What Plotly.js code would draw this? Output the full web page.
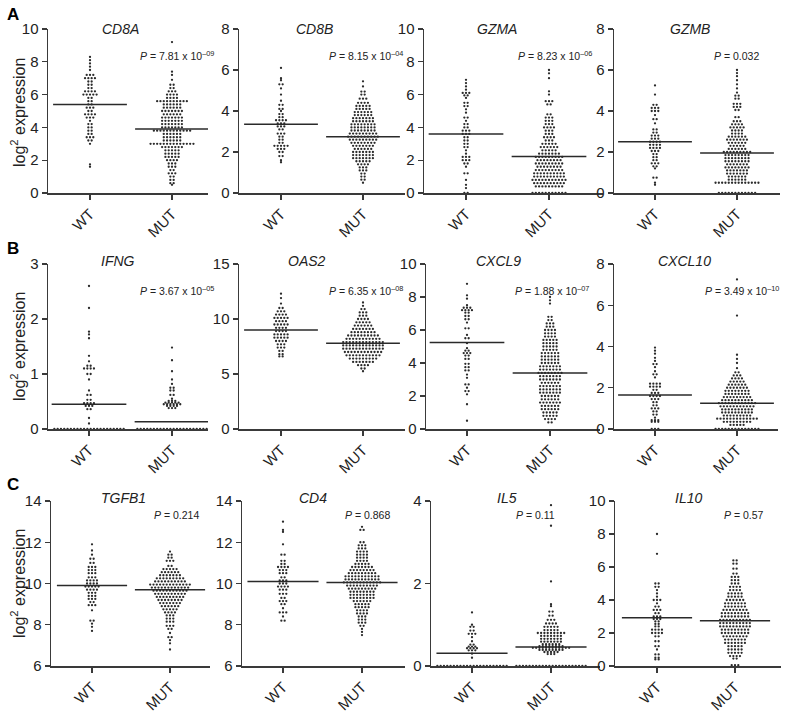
<!DOCTYPE html>
<html>
<head>
<meta charset="utf-8">
<script src="https://cdn.plot.ly/plotly-3.0.1.min.js"></script>
<style>
  html, body { margin: 0; padding: 0; background: #fff; }
  #chart { width: 795px; height: 727px; }
</style>
</head>
<body>
<div id="chart"></div>
<script>
// Genes / panels
const genes = ['CD8A', 'CD8B', 'GZMA', 'GZMB', 'IFNG', 'OAS2', 'CXCL9', 'CXCL10', 'TGFB1', 'CD4', 'IL5', 'IL10'];
const groups = ['WT', 'MUT'];
const pValues = [
    '7.81 x 10<sup>–09</sup>', '8.15 x 10<sup>–04</sup>', '8.23 x 10<sup>–06</sup>', '0.032',
    '3.67 x 10<sup>–05</sup>', '6.35 x 10<sup>–08</sup>', '1.88 x 10<sup>–07</sup>', '3.49 x 10<sup>–10</sup>',
    '0.214', '0.868', '0.11', '0.57'
];
const yMins = [0, 0, 0, 0, 0, 0, 0, 0, 6, 6, 0, 0];
const yMaxs = [10, 8, 10, 8, 3, 15, 10, 8, 14, 14, 4, 10];
const yDtick = [2, 2, 2, 2, 1, 5, 2, 2, 2, 2, 2, 2];
const medianWT = [5.4, 3.35, 3.6, 2.5, 0.45, 9.0, 5.25, 1.65, 9.9, 10.1, 0.31, 2.92];
const medianMUT = [3.9, 2.75, 2.22, 1.95, 0.13, 7.8, 3.4, 1.25, 9.7, 10.05, 0.46, 2.75];

// Rows of the dot plots: [log2 expression, number of samples on that row]
const cd8aWT = [[8.3,1],[8.1,1],[7.9,1],[7.7,1],[7.5,1],[7.2,3],[7.0,4],[6.8,2],[6.6,2],[6.4,2],[6.2,4],[6.0,5],[5.8,2],[5.6,2],[5.4,2],[5.2,3],[5.0,2],[4.8,4],[4.6,3],[4.4,1],[4.2,2],[4.0,2],[3.8,2],[3.6,2],[3.4,3],[3.2,2],[3.0,1],[1.75,1],[1.6,1]];
const cd8aMUT = [[9.2,1],[7.4,1],[7.2,1],[6.9,1],[6.6,2],[6.4,2],[6.2,3],[6.0,4],[5.8,4],[5.6,10],[5.4,6],[5.2,6],[5.0,7],[4.8,6],[4.6,7],[4.4,7],[4.2,7],[4.0,7],[3.8,12],[3.6,6],[3.4,6],[3.2,6],[3.0,14],[2.8,7],[2.6,5],[2.4,5],[2.2,5],[2.0,4],[1.8,3],[1.6,3],[1.4,2],[1.2,3],[1.0,2],[0.8,2],[0.6,2],[0.5,1]];
const cd8bWT = [[6.1,1],[5.6,1],[5.5,1],[5.3,2],[5.1,1],[4.8,1],[4.5,1],[4.3,2],[4.1,2],[4.0,1],[3.85,2],[3.7,2],[3.55,4],[3.4,3],[3.25,3],[3.1,2],[2.9,3],[2.75,2],[2.6,2],[2.45,2],[2.3,5],[2.15,3],[2.0,2],[1.8,2],[1.6,1],[1.5,1]];
const cd8bMUT = [[5.45,1],[5.2,1],[4.95,2],[4.8,2],[4.6,3],[4.4,4],[4.25,5],[4.1,5],[3.95,6],[3.8,6],[3.65,7],[3.5,7],[3.35,8],[3.2,8],[3.05,8],[2.9,9],[2.75,10],[2.6,9],[2.45,8],[2.3,7],[2.15,6],[2.0,7],[1.85,7],[1.7,7],[1.55,5],[1.4,4],[1.25,3],[1.1,3],[0.95,2],[0.8,2],[0.65,2],[0.5,1]];
const gzmaWT = [[6.9,1],[6.7,1],[6.5,1],[6.3,1],[6.1,3],[5.95,2],[5.8,1],[5.5,2],[5.3,2],[5.1,1],[4.9,1],[4.6,2],[4.4,1],[4.2,2],[4.0,2],[3.8,3],[3.6,3],[3.4,2],[3.2,2],[3.0,2],[2.8,2],[2.6,1],[2.4,1],[2.2,3],[2.0,3],[1.8,2],[1.6,1],[1.2,2],[0.8,1],[0.5,1],[0.3,1],[0,2]];
const gzmaMUT = [[7.5,1],[7.3,1],[7.0,1],[6.2,1],[6.0,1],[5.6,3],[5.4,2],[4.8,2],[4.6,3],[4.4,3],[4.2,3],[4.0,4],[3.8,3],[3.6,3],[3.4,4],[3.2,3],[3.0,5],[2.8,6],[2.6,5],[2.4,7],[2.2,9],[2.0,8],[1.8,9],[1.6,8],[1.4,9],[1.2,10],[1.0,10],[0.8,11],[0.6,10],[0.4,9],[0,11]];
const gzmbWT = [[5.25,1],[4.8,1],[4.3,2],[4.15,3],[4.0,3],[3.8,1],[3.6,2],[3.4,1],[3.1,2],[2.95,2],[2.8,3],[2.65,3],[2.5,4],[2.35,4],[2.2,4],[2.05,3],[1.9,2],[1.75,2],[1.6,2],[1.45,3],[1.3,2],[1.2,1],[0.75,2],[0.5,1],[0.4,1]];
const gzmbMUT = [[6.0,1],[5.85,1],[5.7,1],[5.5,1],[5.3,1],[5.1,1],[4.9,1],[4.75,2],[4.6,2],[4.35,3],[4.2,3],[4.05,2],[3.7,2],[3.5,3],[3.35,4],[3.2,5],[3.05,4],[2.9,4],[2.75,6],[2.6,7],[2.45,6],[2.3,5],[2.15,6],[2.0,9],[1.85,8],[1.7,8],[1.55,8],[1.4,7],[1.25,8],[1.1,7],[0.95,7],[0.8,6],[0.65,6],[0.5,14],[0,12]];
const ifngWT = [[2.6,1],[2.2,1],[1.77,1],[1.72,1],[1.65,1],[1.33,1],[1.23,1],[1.15,2],[1.1,4],[1.0,2],[0.9,1],[0.7,1],[0.62,2],[0.53,2],[0.47,4],[0.42,3],[0.36,2],[0.2,1],[0.1,1],[0,22]];
const ifngMUT = [[1.48,1],[1.25,1],[1.05,1],[0.9,1],[0.82,1],[0.75,2],[0.7,2],[0.62,2],[0.55,1],[0.51,3],[0.48,5],[0.45,6],[0.42,4],[0.38,3],[0,22]];
const oas2WT = [[12.3,1],[11.9,1],[11.4,1],[11.0,2],[10.7,3],[10.4,4],[10.1,5],[9.8,4],[9.5,5],[9.2,4],[8.9,4],[8.6,5],[8.3,5],[8.0,4],[7.7,3],[7.4,3],[7.1,2],[6.8,2],[6.6,2]];
const oas2MUT = [[11.5,1],[11.2,1],[10.9,2],[10.6,3],[10.3,3],[10.0,4],[9.7,5],[9.4,6],[9.1,7],[8.8,8],[8.5,10],[8.2,11],[7.9,13],[7.6,13],[7.3,13],[7.0,12],[6.7,11],[6.4,9],[6.1,7],[5.8,4],[5.5,2],[5.25,1]];
const cxcl9WT = [[8.8,1],[8.1,1],[7.9,1],[7.5,1],[7.35,3],[7.2,4],[7.05,2],[6.85,2],[6.65,2],[6.45,1],[6.1,2],[5.7,1],[5.5,2],[5.2,1],[4.9,1],[4.75,2],[4.6,3],[4.45,2],[4.25,2],[3.95,2],[3.75,2],[3.55,2],[3.3,1],[3.1,1],[2.7,2],[2.5,1],[2.3,2],[2.1,1],[1.5,1],[0.5,1]];
const cxcl9MUT = [[8.0,1],[7.8,1],[7.6,1],[6.8,2],[6.6,2],[6.4,3],[6.2,3],[6.0,4],[5.8,4],[5.6,4],[5.4,5],[5.2,5],[5.0,5],[4.8,5],[4.6,6],[4.4,6],[4.2,6],[4.0,6],[3.8,7],[3.6,7],[3.4,8],[3.2,7],[3.0,7],[2.8,6],[2.6,7],[2.4,7],[2.2,7],[2.0,6],[1.8,6],[1.6,7],[1.4,6],[1.2,6],[1.0,5],[0.8,5],[0.6,4],[0.4,2]];
const cxcl10WT = [[3.95,1],[3.8,1],[3.65,1],[3.45,1],[3.3,1],[3.15,2],[3.0,1],[2.8,1],[2.65,2],[2.5,1],[2.2,4],[2.05,4],[1.9,2],[1.75,3],[1.6,4],[1.45,3],[1.3,2],[1.15,2],[1.0,3],[0.85,2],[0.7,2],[0.55,1],[0.43,3],[0.35,3],[0,3]];
const cxcl10MUT = [[7.25,1],[5.5,1],[3.6,1],[3.4,1],[3.2,1],[2.95,1],[2.75,2],[2.6,3],[2.45,4],[2.3,5],[2.15,6],[2.0,7],[1.85,8],[1.7,8],[1.55,9],[1.4,10],[1.25,12],[1.1,11],[0.95,10],[0.8,10],[0.65,9],[0.5,13],[0.35,9],[0.2,5],[0,14]];
const tgfb1WT = [[11.9,1],[11.6,1],[11.4,1],[11.2,2],[11.0,2],[10.8,3],[10.65,3],[10.5,3],[10.3,3],[10.15,4],[10.0,4],[9.85,5],[9.7,4],[9.55,3],[9.4,3],[9.25,3],[9.1,2],[8.95,3],[8.7,1],[8.2,2],[8.05,1],[7.9,1],[7.7,1]];
const tgfb1MUT = [[11.55,1],[11.4,2],[11.25,2],[11.1,3],[10.85,2],[10.7,5],[10.55,6],[10.4,7],[10.25,9],[10.1,10],[9.95,13],[9.8,12],[9.65,11],[9.5,10],[9.35,9],[9.2,8],[9.05,7],[8.9,6],[8.75,5],[8.6,4],[8.45,3],[8.3,3],[8.15,3],[7.95,3],[7.8,2],[7.6,1],[7.4,2],[7.25,1],[7.1,1],[6.8,1]];
const cd4WT = [[13.0,1],[12.6,1],[12.5,1],[11.9,1],[11.4,2],[11.1,2],[10.95,2],[10.8,4],[10.65,3],[10.5,3],[10.3,2],[10.15,3],[10.0,3],[9.85,4],[9.7,3],[9.5,3],[9.3,2],[9.15,3],[9.0,2],[8.8,1],[8.6,3],[8.4,1],[8.2,2]];
const cd4MUT = [[12.75,1],[12.6,2],[12.0,2],[11.85,3],[11.7,3],[11.55,4],[11.4,4],[11.25,4],[11.1,4],[10.95,5],[10.8,7],[10.65,8],[10.5,9],[10.35,11],[10.2,11],[10.05,12],[9.9,10],[9.75,9],[9.6,8],[9.45,8],[9.3,8],[9.15,6],[9.0,5],[8.85,5],[8.7,4],[8.55,4],[8.4,3],[8.25,3],[8.1,3],[7.95,2],[7.8,1],[7.65,1],[7.5,1]];
const il5WT = [[1.3,1],[1.0,1],[0.95,2],[0.86,2],[0.78,3],[0.7,1],[0.6,1],[0.52,2],[0.47,3],[0.43,4],[0.38,3],[0.3,1],[0.2,1],[0,22]];
const il5MUT = [[3.9,1],[3.4,1],[2.05,1],[1.5,1],[1.45,1],[1.32,2],[1.22,2],[1.12,3],[1.03,4],[0.95,5],[0.87,5],[0.8,9],[0.73,7],[0.66,7],[0.59,7],[0.53,6],[0.48,8],[0.44,12],[0.39,8],[0.34,5],[0.29,3],[0,22]];
const il10WT = [[8.0,1],[6.8,1],[5.0,2],[4.8,2],[4.6,1],[4.4,1],[4.2,1],[4.0,3],[3.8,1],[3.6,2],[3.4,3],[3.2,2],[3.0,3],[2.85,3],[2.7,2],[2.55,2],[2.4,2],[2.2,4],[2.0,4],[1.8,2],[1.5,2],[1.2,2],[1.0,1],[0.7,2],[0.5,2],[0.4,2]];
const il10MUT = [[6.4,2],[6.2,2],[5.9,2],[5.6,2],[5.4,3],[5.2,3],[5.0,3],[4.8,4],[4.6,4],[4.4,5],[4.2,5],[4.0,6],[3.8,7],[3.6,7],[3.4,8],[3.2,9],[3.0,9],[2.8,10],[2.6,10],[2.4,10],[2.2,9],[2.0,9],[1.8,8],[1.6,7],[1.4,7],[1.2,5],[1.0,5],[0.8,5],[0.6,4],[0.45,2],[0.05,3]];

const groupRows = [
    [cd8aWT, cd8aMUT], [cd8bWT, cd8bMUT], [gzmaWT, gzmaMUT], [gzmbWT, gzmbMUT],
    [ifngWT, ifngMUT], [oas2WT, oas2MUT], [cxcl9WT, cxcl9MUT], [cxcl10WT, cxcl10MUT],
    [tgfb1WT, tgfb1MUT], [cd4WT, cd4MUT], [il5WT, il5MUT], [il10WT, il10MUT]
];

// Panel geometry in page pixels: left axis, WT tick, MUT tick, right end
const W = 795, H = 727;
const rowTop = [29, 264, 501];
const rowBottom = [193, 429, 666];
const colGeom = [
    [[48, 90, 172, 208], [239, 281, 363, 405], [424, 466, 549, 603], [614, 655, 737, 780]],
    [[48, 89, 172, 208], [239, 281, 363, 405], [426, 467, 550, 600], [614, 655, 737, 778]],
    [[51, 92, 170, 210], [242, 283, 362, 405], [431, 472, 551, 600], [615, 657, 735, 781]]
];
const titleX = [[120, 314, 497, 690], [118, 307, 498, 684], [123, 313, 507, 688]];
const titleY = [29, 261, 498];
const pX = [[138, 327, 516, 712], [138, 327, 513, 703], [152, 343, 514, 722]];
const pY = [56, 290, 515];

const FONT = '"Liberation Sans", Arial, sans-serif';
const AXIS_COLOR = '#3a3a3a';
const DOT_PX = 3.3;

const traces = [];
const layout = {
    width: W,
    height: H,
    margin: { l: 0, r: 0, t: 0, b: 0 },
    paper_bgcolor: '#fff',
    plot_bgcolor: '#fff',
    showlegend: false,
    font: { family: FONT, color: '#222' },
    shapes: [],
    annotations: []
};

genes.forEach((gene, k) => {
    const row = Math.floor(k / 4);
    const col = k % 4;
    const [left, wtPx, mutPx, right] = colGeom[row][col];
    const unit = mutPx - wtPx;
    const suffix = k === 0 ? '' : String(k + 1);
    const xa = 'x' + suffix, ya = 'y' + suffix;

    layout['xaxis' + suffix] = {
        domain: [left / W, right / W],
        range: [-(wtPx - left) / unit, 1 + (right - mutPx) / unit],
        anchor: ya,
        tickvals: [0, 1],
        ticktext: groups,
        tickangle: -45,
        ticks: 'outside',
        ticklen: 5,
        tickwidth: 1.2,
        tickcolor: AXIS_COLOR,
        showline: true,
        linecolor: AXIS_COLOR,
        linewidth: 1.5,
        showgrid: false,
        zeroline: false,
        fixedrange: true,
        tickfont: { family: FONT, size: 15, color: '#222' }
    };
    layout['yaxis' + suffix] = {
        domain: [1 - rowBottom[row] / H, 1 - rowTop[row] / H],
        range: [yMins[k], yMaxs[k]],
        anchor: xa,
        tick0: yMins[k],
        dtick: yDtick[k],
        ticks: 'outside',
        ticklen: 5,
        tickwidth: 1.2,
        tickcolor: AXIS_COLOR,
        showline: true,
        linecolor: AXIS_COLOR,
        linewidth: 1.5,
        showgrid: false,
        zeroline: false,
        fixedrange: true,
        tickfont: { family: FONT, size: 15, color: '#222' }
    };

    // dot rows spread sideways, Prism style
    const dx = DOT_PX / unit;
    groupRows[k].forEach((rows, g) => {
        const xs = [], ys = [];
        rows.forEach(([v, n]) => {
            for (let i = 0; i < n; i++) {
                xs.push(g + (i - (n - 1) / 2) * dx);
                ys.push(v);
            }
        });
        traces.push({
            x: xs,
            y: ys,
            xaxis: xa,
            yaxis: ya,
            type: 'scatter',
            mode: 'markers',
            cliponaxis: false,
            hoverinfo: 'y',
            marker: { size: 2.3, color: '#2b2b2b' }
        });
    });

    // median lines
    [medianWT[k], medianMUT[k]].forEach((m, g) => {
        layout.shapes.push({
            type: 'line', xref: xa, yref: ya,
            x0: g - 0.45, x1: g + 0.45, y0: m, y1: m,
            line: { color: '#2a2a2a', width: 1.5 }
        });
    });

    // gene title
    layout.annotations.push({
        xref: 'paper', yref: 'paper',
        x: titleX[row][col] / W, y: 1 - titleY[row] / H,
        xanchor: 'center', yanchor: 'middle',
        text: '<i>' + gene + '</i>',
        showarrow: false,
        font: { family: FONT, size: 14, color: '#222' }
    });

    // P value
    layout.annotations.push({
        xref: 'paper', yref: 'paper',
        x: pX[row][col] / W, y: 1 - pY[row] / H,
        xanchor: 'left', yanchor: 'middle',
        text: '<i>P</i> = ' + pValues[k],
        showarrow: false,
        font: { family: FONT, size: 10.5, color: '#222' }
    });
});

// y axis titles and panel letters
const yTitleY = [113, 347, 584];
const letters = ['A', 'B', 'C'];
const letterY = [15, 248, 484];
rowTop.forEach((t, r) => {
    layout.annotations.push({
        xref: 'paper', yref: 'paper',
        x: 18 / W, y: 1 - yTitleY[r] / H,
        xanchor: 'center', yanchor: 'middle',
        textangle: -90,
        text: 'log<sup>2</sup> expression',
        showarrow: false,
        font: { family: FONT, size: 16, color: '#222' }
    });
    layout.annotations.push({
        xref: 'paper', yref: 'paper',
        x: 13 / W, y: 1 - letterY[r] / H,
        xanchor: 'center', yanchor: 'middle',
        text: '<b>' + letters[r] + '</b>',
        showarrow: false,
        font: { family: FONT, size: 17, color: '#000' }
    });
});

Plotly.newPlot('chart', traces, layout, { staticPlot: true, displayModeBar: false });
</script>
</body>
</html>
